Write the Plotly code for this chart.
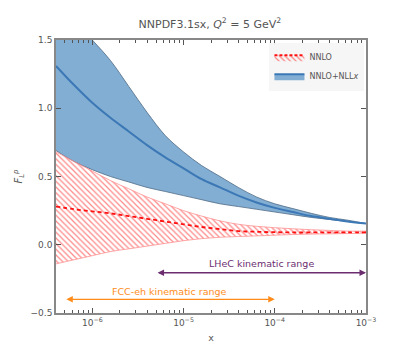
import numpy as np
import plotly.graph_objects as go

# x grid
x = [4.0e-7, 6.31e-7, 1.0e-6, 1.58e-6, 2.51e-6, 3.98e-6, 6.31e-6, 1.0e-5, 1.58e-5,
     2.51e-5, 3.98e-5, 6.31e-5, 1.0e-4, 1.58e-4, 2.51e-4, 3.98e-4, 6.31e-4, 1.0e-3]

# NNLO+NLLx band
resum_up = [1.80, 1.65, 1.50, 1.35, 1.16, 0.97, 0.80, 0.68, 0.58, 0.50, 0.42, 0.35,
            0.30, 0.265, 0.23, 0.20, 0.18, 0.155]
resum_mid = [1.31, 1.17, 1.04, 0.93, 0.83, 0.73, 0.64, 0.56, 0.48, 0.42, 0.36, 0.31,
             0.27, 0.24, 0.21, 0.19, 0.17, 0.155]
resum_lo = [0.69, 0.61, 0.55, 0.50, 0.46, 0.42, 0.39, 0.36, 0.33, 0.30, 0.28, 0.26,
            0.24, 0.22, 0.20, 0.185, 0.17, 0.155]

# NNLO band
nnlo_up = [0.68, 0.61, 0.54, 0.47, 0.41, 0.35, 0.30, 0.25, 0.21, 0.175, 0.15, 0.135,
           0.125, 0.117, 0.11, 0.105, 0.10, 0.10]
nnlo_mid = [0.28, 0.26, 0.245, 0.23, 0.21, 0.19, 0.17, 0.15, 0.13, 0.115, 0.10, 0.095,
            0.092, 0.09, 0.09, 0.09, 0.09, 0.09]
nnlo_lo = [-0.14, -0.11, -0.08, -0.05, -0.03, -0.01, 0.01, 0.03, 0.045, 0.055, 0.06,
           0.065, 0.07, 0.075, 0.078, 0.08, 0.082, 0.085]

# kinematic ranges
lhec_range = [5e-6, 1e-3]
fcc_range = [5e-7, 1e-4]

major_x = [1e-6, 1e-5, 1e-4, 1e-3]
major_lab = ["10<sup>−6</sup>", "10<sup>−5</sup>", "10<sup>−4</sup>", "10<sup>−3</sup>"]
minor_x = [m * 10.0**e for e in (-7, -6, -5, -4) for m in range(2, 10)]

font = "DejaVu Sans"
grey = "#555555"
blue_fill = "#82aed3"
blue_edge = "#4f6b85"
blue_line = "#3b78b5"
red = "#ff1010"
hatch = dict(shape="\\", fgcolor=red, bgcolor="rgba(0,0,0,0)", size=4, solidity=0.3)

fig = go.Figure()

# blue band
fig.add_trace(go.Scatter(x=x, y=resum_lo, mode="lines", line=dict(color=blue_edge, width=0.8, shape="spline"),
                         showlegend=False, hoverinfo="skip"))
fig.add_trace(go.Scatter(x=x, y=resum_up, mode="lines", line=dict(color=blue_edge, width=0.8, shape="spline"),
                         fill="tonexty", fillcolor=blue_fill, showlegend=False, hoverinfo="skip"))

# red hatched band
fig.add_trace(go.Scatter(x=x, y=nnlo_lo, mode="lines", line=dict(color="#ff9090", width=0.8, shape="spline"),
                         showlegend=False, hoverinfo="skip"))
fig.add_trace(go.Scatter(x=x, y=nnlo_up, mode="lines", line=dict(color="#ff9090", width=0.8, shape="spline"),
                         fill="tonexty", fillcolor="rgba(0,0,0,0)", fillpattern=hatch,
                         showlegend=False, hoverinfo="skip"))

# central lines
fig.add_trace(go.Scatter(x=x, y=nnlo_mid, mode="lines", showlegend=False,
                         line=dict(color=red, width=1.8, dash="4px,3px", shape="spline")))
fig.add_trace(go.Scatter(x=x, y=resum_mid, mode="lines", showlegend=False,
                         line=dict(color=blue_line, width=2, shape="spline")))

# legend-only entries (band + central line)
fig.add_trace(go.Scatter(x=[None], y=[None], mode="lines", name="NNLO", fill="toself",
                         fillcolor="rgba(0,0,0,0)", fillpattern=hatch,
                         line=dict(color=red, width=2, dash="3px,2px")))
fig.add_trace(go.Scatter(x=[None], y=[None], mode="lines", name="NNLO+NLL<i>x</i>", fill="toself",
                         fillcolor=blue_fill, line=dict(color=blue_line, width=2)))

# kinematic range arrows
for rng, yv, col, label, ytxt in [
    (lhec_range, -0.205, "#6b2d6f", "LHeC kinematic range", -0.14),
    (fcc_range, -0.40, "#ff8c1a", "FCC-eh kinematic range", -0.34),
]:
    fig.add_annotation(x=np.log10(rng[1]), y=yv, ax=np.log10(rng[0]), ay=yv,
                       xref="x", yref="y", axref="x", ayref="y", text="",
                       showarrow=True, arrowhead=2, arrowside="end+start",
                       arrowsize=1, arrowwidth=1.3, arrowcolor=col)
    fig.add_annotation(x=(np.log10(rng[0]) + np.log10(rng[1])) / 2, y=ytxt, text=label,
                       showarrow=False, font=dict(family=font, size=9.5, color=col))

axis_common = dict(showline=True, linecolor="#888888", linewidth=1.5, mirror="ticks",
                   ticks="inside", tickcolor="#555555", showgrid=False, zeroline=False,
                   automargin=False, tickfont=dict(family=font, size=9, color=grey))

fig.update_xaxes(type="log", range=[np.log10(4.0e-7), -3], tickvals=major_x, ticktext=major_lab,
                 ticklen=5, minor=dict(tickvals=minor_x, ticks="inside", ticklen=3, tickcolor="#555555"),
                 title=dict(text="x", font=dict(family=font, size=9.5, color=grey), standoff=8),
                 **axis_common)
fig.update_yaxes(range=[-0.5, 1.5], tickvals=[-0.5, 0, 0.5, 1.0, 1.5], tickformat=".1f", ticklen=5,
                 title=dict(text="<i>F</i><sub><i>L</i></sub><sup><i>p</i></sup>",
                            font=dict(family=font, size=10, color=grey), standoff=6),
                 **axis_common)

# the page body has an 8px margin, so the margins are shifted to compensate
fig.update_layout(
    width=412, height=354,
    margin=dict(l=48, r=54, t=32, b=49),
    paper_bgcolor="white", plot_bgcolor="white",
    title=dict(text="NNPDF3.1sx, <i>Q</i><sup>2</sup> = 5 GeV<sup>2</sup>", x=0.49, xanchor="center",
               y=0.955, yanchor="middle", font=dict(family=font, size=11, color=grey)),
    legend=dict(x=0.995, y=0.99, xanchor="right", yanchor="top", bgcolor="rgba(245,245,245,0.95)",
                borderwidth=0, font=dict(family=font, size=8, color=grey), itemwidth=30,
                traceorder="normal", tracegroupgap=0),
    showlegend=True,
)

fig.write_html("out.html")
